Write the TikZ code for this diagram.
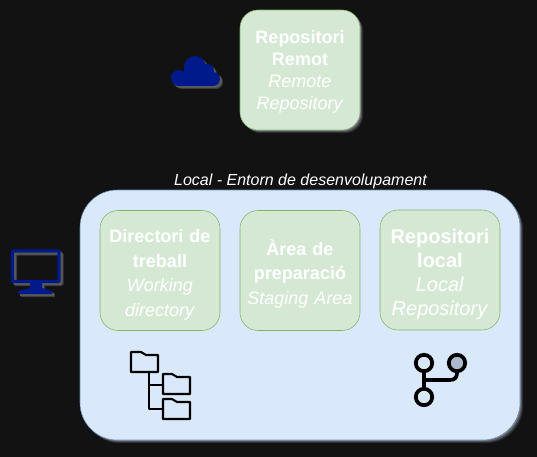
\documentclass[tikz,border=0pt]{standalone}
\usepackage{fontspec}
\setmainfont{Liberation Sans}
\usetikzlibrary{shadows}
\definecolor{pagedark}{HTML}{121212}
\definecolor{boxgreen}{HTML}{D5E8D4}
\definecolor{linegreen}{HTML}{82B366}
\definecolor{boxblue}{HTML}{DAE8FC}
\definecolor{lineblue}{HTML}{6C8EBF}
\definecolor{icondark}{HTML}{001A8C}
\definecolor{commitgray}{HTML}{ADB8CC}
\definecolor{glowtint}{HTML}{D8D8F0}
\newcommand{\topdrop}[1]{\rule{0pt}{#1}}
\tikzset{
  softshadow/.style={
    drop shadow={shadow xshift=0.8pt, shadow yshift=-0.8pt, fill=glowtint, opacity=0.30},
    drop shadow={shadow xshift=1.6pt, shadow yshift=-1.6pt, fill=glowtint, opacity=0.20},
    drop shadow={shadow xshift=2.4pt, shadow yshift=-2.4pt, fill=glowtint, opacity=0.12}
  },
  gitbox/.style={
    draw=linegreen, fill=boxgreen, rounded corners=13.5pt, align=center,
    minimum width=90pt, minimum height=90pt, inner sep=0pt, text=white,
    text width=88pt
  },
  localbox/.style={
    draw=lineblue, fill=boxblue, rounded corners=28pt, minimum width=330pt,
    minimum height=187.5pt, inner sep=0pt
  },
  iconline/.style={draw=black, line width=1.6pt, line join=round, line cap=round},
  commitring/.style={draw=black, line width=2.8pt},
}

\begin{document}
\begin{tikzpicture}[x=0.75pt, y=-0.75pt]
  % Page
  \fill[pagedark] (0, 0) rectangle (537, 457);
  \useasboundingbox (0, 0) rectangle (537, 457);

  % Local environment
  \node[localbox, softshadow] (localenv) at (300, 315) {};
  \node[text=white, font=\fontsize{12}{14}\selectfont\itshape] (localtitle) at (300.5, 181)
    {Local - Entorn de desenvolupament};

  % Remote repository
  \node[gitbox, softshadow, font=\fontsize{13.5}{16.5}\selectfont] (remoterepo) at (300, 70)
    {\topdrop{12.8pt}\textbf{Repositori}\\ \textbf{Remot}\\ \textit{Remote}\\ \textit{Repository}};

  % Boxes inside local
  \node[gitbox, font=\fontsize{13.5}{18.4}\selectfont] (workdir) at (160, 270.5)
    {\topdrop{16.6pt}\textbf{Directori de}\\ \textbf{treball}\\ \textit{Working}\\ \textit{directory}};
  \node[gitbox, font=\fontsize{13.5}{18.6}\selectfont] (staging) at (300, 270.5)
    {\topdrop{17pt}\textbf{Àrea de}\\ \textbf{preparació}\\ \textit{Staging Area}};
  \node[gitbox, font=\fontsize{15}{18}\selectfont] (localrepo) at (440, 270)
    {\topdrop{16.9pt}\textbf{Repositori}\\ \textbf{local}\\ \textit{Local}\\ \textit{Repository}};

  % Cloud icon
  \foreach \dx/\shade in {3/gray!45!black, 2/gray!70!black, 0/icondark} {
    \begin{scope}[shift={(\dx, \dx)}, fill=\shade]
      \fill (179, 78) circle (8);
      \fill (195, 67) circle (11);
      \fill (207, 71) circle (7);
      \fill (213, 79) circle (7);
      \fill (179, 75) rectangle (213, 86);
      \fill (184, 66) rectangle (206, 76);
    \end{scope}
  }

  % Monitor icon
  \foreach \dx/\shade in {3/gray!45!black, 2/gray!70!black, 0/icondark} {
    \begin{scope}[shift={(\dx, \dx)}]
      \draw[\shade, line width=2.4pt, rounded corners=0.6pt] (12.5, 251) rectangle (59, 281.5);
      \fill[\shade] (30, 283) -- (42, 283) -- (42, 288) -- (52, 291) -- (52, 294)
        -- (18, 294) -- (18, 291) -- (30, 288) -- cycle;
    \end{scope}
  }

  % Folder tree icon
  \draw[iconline] (131, 372) -- (131, 352) -- (141, 352) -- (146, 355) -- (158, 355)
    -- (158, 372) -- cycle;
  \draw[iconline] (163, 394) -- (163, 374) -- (172, 374) -- (177, 377) -- (190, 377)
    -- (190, 394) -- cycle;
  \draw[iconline] (163, 419) -- (163, 399) -- (172, 399) -- (177, 402) -- (190, 402)
    -- (190, 419) -- cycle;
  \draw[iconline] (149, 372) -- (149, 409) -- (163, 409);
  \draw[iconline] (149, 385) -- (163, 385);

  % Branch icon
  \draw[black, line width=2.8pt, line cap=round] (424, 373) -- (424, 387);
  \draw[black, line width=2.8pt, line cap=round] (424, 380) -- (450, 380)
    .. controls (455, 380) and (457, 377) .. (457, 373);
  \draw[commitring] (424, 363) circle (8.2);
  \draw[commitring, fill=commitgray] (457, 363) circle (8.2);
  \draw[commitring] (424, 397) circle (8.2);
\end{tikzpicture}
\end{document}
